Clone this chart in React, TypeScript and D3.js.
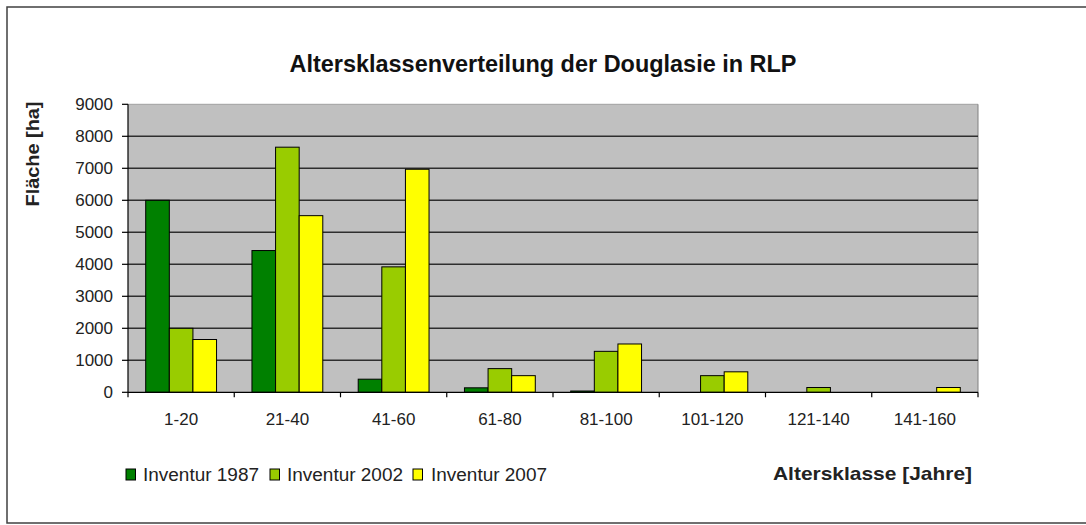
import React from "react";
import * as d3 from "d3";

const categories = ["1-20", "21-40", "41-60", "61-80", "81-100", "101-120", "121-140", "141-160"];
const inv1987 = [6000, 4430, 410, 140, 40, 0, 0, 0];
const inv2002 = [2000, 7660, 3920, 740, 1280, 520, 150, 0];
const inv2007 = [1650, 5520, 6970, 520, 1510, 640, 0, 150];
const seriesNames = ["Inventur 1987", "Inventur 2002", "Inventur 2007"];
const seriesColors = ["#008000", "#99CC00", "#FFFF00"];
const yTicks = [0, 1000, 2000, 3000, 4000, 5000, 6000, 7000, 8000, 9000];

const FONT = "'Liberation Sans', Arial, sans-serif";

export default function App() {
  const W = 1086, H = 525;
  const left = 128, right = 978, top = 104.3, bottom = 392.3;
  const x = d3.scaleBand<string>().domain(categories).range([left, right]).padding(0);
  const y = d3.scaleLinear().domain([0, 9000]).range([bottom, top]);
  const bw = x.bandwidth();
  const barW = bw / 4.5;
  const series = [inv1987, inv2002, inv2007];

  return (
    <svg width={W} height={H} style={{ position: "absolute", left: 0, top: 0, background: "#fff" }} fontFamily={FONT}>
      <rect x={7} y={7} width={1100} height={516} fill="#fff" stroke="#404040" strokeWidth={1.5} />
      <text x={543} y={72} textAnchor="middle" fontSize={23} fontWeight="bold" fill="#111" textLength={507} lengthAdjust="spacingAndGlyphs">
        Altersklassenverteilung der Douglasie in RLP
      </text>
      <rect x={left} y={top} width={right - left} height={bottom - top} fill="#C0C0C0" />
      <line x1={left} x2={right} y1={top} y2={top} stroke="#a0a0a0" strokeWidth={1} />
      <line x1={right} x2={right} y1={top} y2={bottom} stroke="#808080" strokeWidth={1} />
      {yTicks.filter((t) => t > 0 && t < 9000).map((t) => (
        <line key={"g" + t} x1={left} x2={right} y1={y(t)} y2={y(t)} stroke="#2e2e2e" strokeWidth={1.5} />
      ))}
      {series.map((vals, si) =>
        categories.map((c, ci) => {
          const v = vals[ci];
          if (v <= 0) return null;
          const bx = (x(c) as number) + barW * 0.75 + si * barW;
          return (
            <rect key={si + "-" + ci} x={bx} y={y(v)} width={barW} height={bottom - y(v)}
              fill={seriesColors[si]} stroke="#000" strokeWidth={1} />
          );
        })
      )}
      <line x1={left} x2={left} y1={top} y2={bottom} stroke="#000" strokeWidth={1.2} />
      <line x1={left} x2={right} y1={bottom} y2={bottom} stroke="#000" strokeWidth={1.2} />
      {yTicks.map((t) => (
        <g key={"t" + t}>
          <line x1={left - 6} x2={left} y1={y(t)} y2={y(t)} stroke="#000" strokeWidth={1.2} />
          <text x={113} y={y(t)} dy="0.36em" textAnchor="end" fontSize={17} fill="#222">{t}</text>
        </g>
      ))}
      {categories.map((c, i) => (
        <line key={"xt" + i} x1={x(c) as number} x2={x(c) as number} y1={bottom} y2={bottom + 5} stroke="#000" strokeWidth={1.2} />
      ))}
      <line x1={right} x2={right} y1={bottom} y2={bottom + 5} stroke="#000" strokeWidth={1.2} />
      {categories.map((c) => (
        <text key={"xl" + c} x={(x(c) as number) + bw / 2} y={425} textAnchor="middle" fontSize={17} fill="#222">{c}</text>
      ))}
      <text transform={`translate(39,154) rotate(-90)`} textAnchor="middle" fontSize={19} fontWeight="bold" fill="#222" textLength={105} lengthAdjust="spacingAndGlyphs">
        Fläche [ha]
      </text>
      <text x={972} y={479.5} textAnchor="end" fontSize={19} fontWeight="bold" fill="#222" textLength={199} lengthAdjust="spacingAndGlyphs">
        Altersklasse [Jahre]
      </text>
      {seriesNames.map((n, i) => {
        const lx = [126, 270, 413][i];
        const tx = [143, 287, 431][i];
        return (
          <g key={n}>
            <rect x={lx} y={469} width={9.5} height={11} fill={seriesColors[i]} stroke="#000" strokeWidth={1} />
            <text x={tx} y={480.5} fontSize={17.5} fill="#222" textLength={116} lengthAdjust="spacingAndGlyphs">{n}</text>
          </g>
        );
      })}
    </svg>
  );
}
